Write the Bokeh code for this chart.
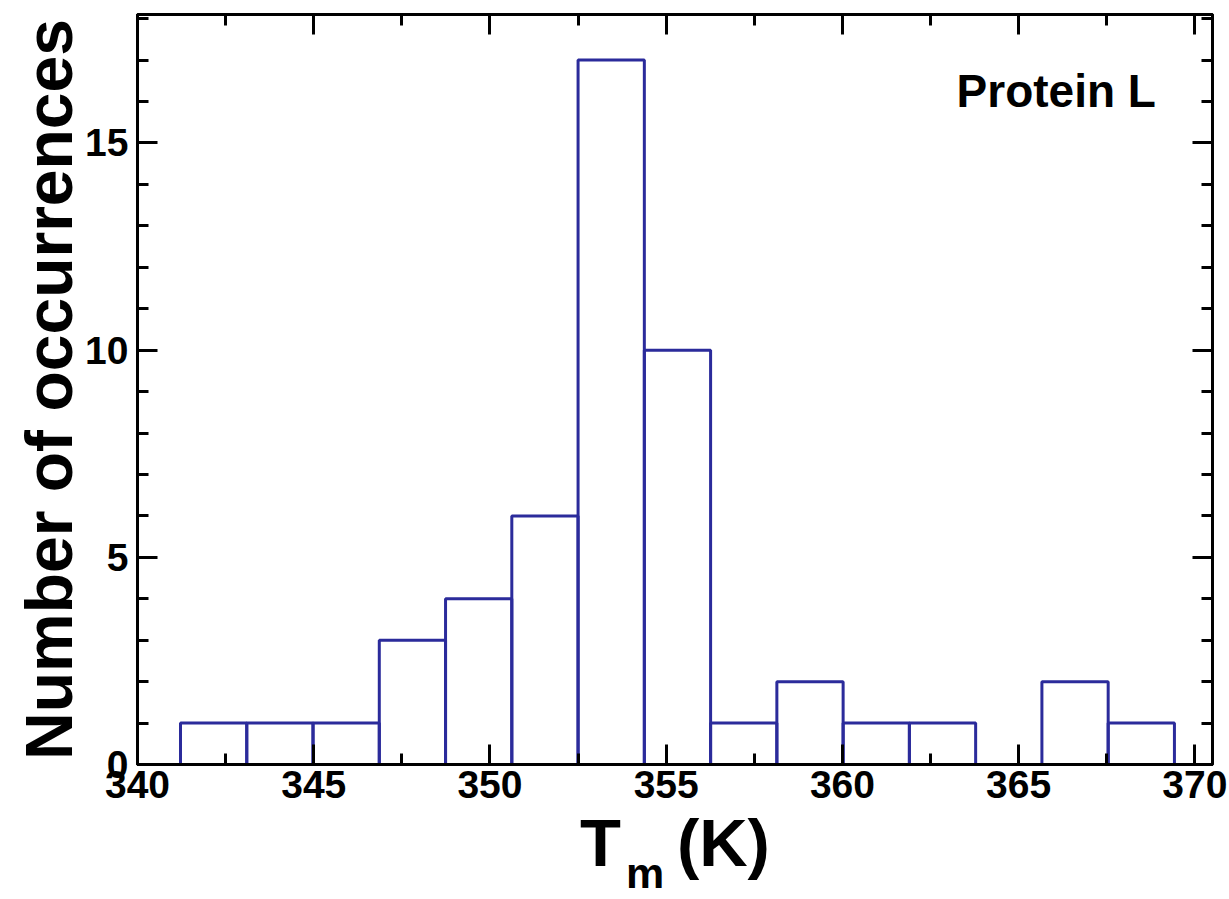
from bokeh.plotting import figure
from bokeh.models import (Range1d, LinearAxis, SingleIntervalTicker, FixedTicker,
                          Label, CustomJSTickFormatter, ColumnDataSource)
from bokeh.embed import file_html
from bokeh.resources import INLINE

# ---- data ----
bin_edges = [341.22, 343.10, 344.98, 346.86, 348.74, 350.62, 352.50, 354.38,
             356.26, 358.14, 360.02, 361.90, 363.78, 365.66, 367.54, 369.42]
counts = [1, 1, 1, 3, 4, 6, 17, 10, 1, 2, 1, 1, 0, 2, 1]
NB = "\u00a0"
x_title_main = "T" + NB * 3 + "(K)"
x_title_sub = "m" + NB * 5
y_title = "Number of occurrences"
panel_label = "Protein L"

FONT = "Liberation Sans"
BAR_COLOR = "#2b2b9b"

src = ColumnDataSource(dict(left=bin_edges[:-1], right=bin_edges[1:],
                            bottom=[0] * len(counts), top=counts))

p = figure(width=1229, height=899, output_backend="svg", toolbar_location=None,
           x_range=Range1d(340, 370.5), y_range=Range1d(0, 18.1),
           min_border_left=137, min_border_right=17, min_border_top=14,
           min_border_bottom=135, x_axis_location=None, y_axis_location=None)
p.xgrid.visible = False
p.ygrid.visible = False
p.outline_line_color = "black"
p.outline_line_width = 3
p.background_fill_color = "white"
p.border_fill_color = "white"

p.quad(left="left", right="right", bottom="bottom", top="top", source=src,
       fill_color="white", fill_alpha=0.0, line_color=BAR_COLOR, line_width=3)

blank = CustomJSTickFormatter(code="return ''")

def style(ax, show_labels):
    ax.axis_line_width = 3
    ax.axis_line_color = "black"
    ax.major_tick_in = 20
    ax.major_tick_out = 0
    ax.minor_tick_in = 11
    ax.minor_tick_out = 0
    ax.major_tick_line_width = 3
    ax.minor_tick_line_width = 3
    ax.major_tick_line_color = "black"
    ax.minor_tick_line_color = "black"
    ax.major_label_text_font = FONT
    ax.major_label_text_font_style = "bold"
    ax.major_label_text_font_size = "39px"
    ax.major_label_text_color = "black"
    ax.axis_label_text_font = FONT
    ax.axis_label_text_font_style = "bold"
    ax.axis_label_text_color = "black"
    if not show_labels:
        ax.formatter = blank

# bottom axis with the title "T  (K)"
xb = LinearAxis(ticker=SingleIntervalTicker(interval=5, num_minor_ticks=2),
                axis_label=x_title_main)
style(xb, True)
xb.major_label_standoff = 6
xb.axis_label_text_font_size = "67px"
xb.axis_label_standoff = 4
p.add_layout(xb, "below")

# second, tick-less bottom axis that carries the subscript "m"
xs = LinearAxis(ticker=FixedTicker(ticks=[]), axis_label=x_title_sub)
style(xs, True)
xs.axis_line_color = None
xs.major_tick_line_color = None
xs.minor_tick_line_color = None
xs.major_label_standoff = 0
xs.axis_label_text_font_size = "43px"
xs.axis_label_standoff = -34
p.add_layout(xs, "below")

xt = LinearAxis(ticker=SingleIntervalTicker(interval=5, num_minor_ticks=2))
style(xt, False)
p.add_layout(xt, "above")

yl = LinearAxis(ticker=SingleIntervalTicker(interval=5, num_minor_ticks=5),
                axis_label=y_title)
style(yl, True)
yl.major_label_standoff = 9
yl.axis_label_text_font_size = "66px"
yl.axis_label_standoff = -4
p.add_layout(yl, "left")

yr = LinearAxis(ticker=SingleIntervalTicker(interval=5, num_minor_ticks=5))
style(yr, False)
p.add_layout(yr, "right")

p.add_layout(Label(x=363.24, y=16.26, text=panel_label,
                   text_font=FONT, text_font_style="bold", text_font_size="46px",
                   text_align="left", text_baseline="alphabetic",
                   text_color="black"))

open("out.html", "w").write(file_html(p, INLINE))
